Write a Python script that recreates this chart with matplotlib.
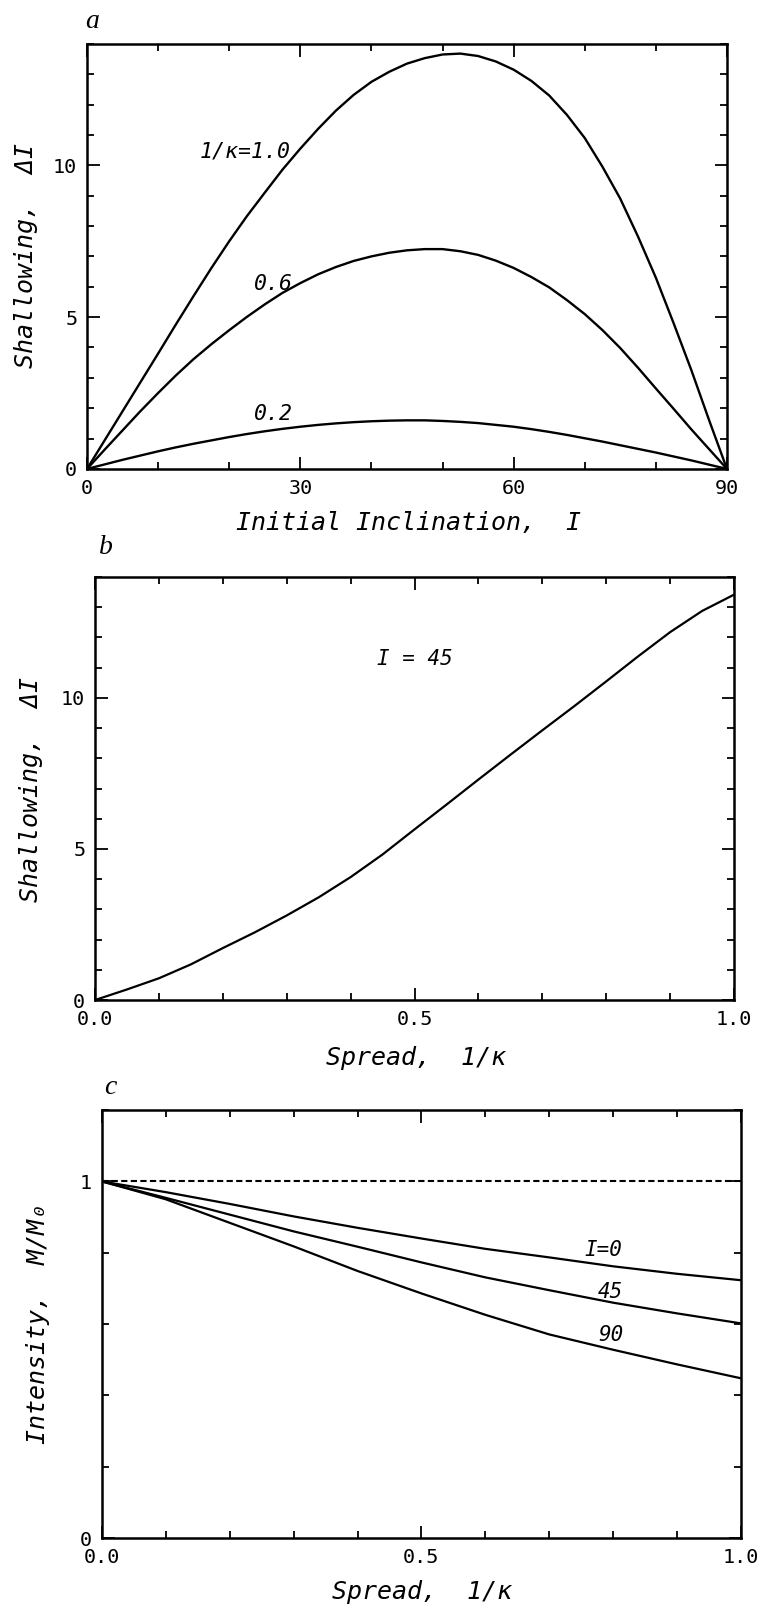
import numpy as np
import matplotlib
matplotlib.use("Agg")
import matplotlib.pyplot as plt
from matplotlib.ticker import MultipleLocator, FixedLocator


# (a) Shallowing en fonction de l'inclinaison initiale, pour 3 valeurs de 1/kappa
inclinaison = [0, 2.5, 5, 7.5, 10, 12.5, 15, 17.5, 20, 22.5, 25, 27.5, 30, 32.5, 35, 37.5,
               40, 42.5, 45, 47.5, 50, 52.5, 55, 57.5, 60, 62.5, 65, 67.5, 70, 72.5,
               75, 77.5, 80, 82.5, 85, 87.5, 90]
shallow_k10 = [0, 0.95, 1.9, 2.85, 3.8, 4.76, 5.7, 6.62, 7.5, 8.33, 9.1, 9.86, 10.55, 11.2,
               11.8, 12.32, 12.75, 13.08, 13.35, 13.53, 13.65, 13.68, 13.6, 13.42, 13.15,
               12.78, 12.3, 11.66, 10.9, 9.95, 8.9, 7.65, 6.3, 4.8, 3.25, 1.6, 0]
shallow_k06 = [0, 0.64, 1.27, 1.9, 2.5, 3.08, 3.62, 4.11, 4.57, 5.01, 5.42, 5.8, 6.12, 6.41,
               6.65, 6.85, 7.0, 7.12, 7.2, 7.24, 7.24, 7.17, 7.05, 6.86, 6.62, 6.32, 5.98,
               5.56, 5.1, 4.57, 3.98, 3.33, 2.65, 1.98, 1.3, 0.65, 0]
shallow_k02 = [0, 0.15, 0.3, 0.44, 0.58, 0.71, 0.83, 0.94, 1.05, 1.15, 1.24, 1.32, 1.39, 1.45,
               1.5, 1.54, 1.57, 1.59, 1.6, 1.6, 1.58, 1.55, 1.51, 1.45, 1.39, 1.31, 1.22,
               1.12, 1.01, 0.9, 0.78, 0.66, 0.54, 0.41, 0.28, 0.14, 0]
labels_k = ["1/κ=1.0", "0.6", "0.2"]

# (b) Shallowing en fonction du spread, I = 45
spread_b = [0.0, 0.05, 0.1, 0.15, 0.2, 0.25, 0.3, 0.35, 0.4, 0.45, 0.5, 0.55, 0.6, 0.65,
            0.7, 0.75, 0.8, 0.85, 0.9, 0.95, 1.0]
shallow_i45 = [0, 0.35, 0.72, 1.18, 1.72, 2.24, 2.8, 3.4, 4.07, 4.82, 5.65, 6.47, 7.3, 8.12,
               8.93, 9.73, 10.55, 11.38, 12.18, 12.88, 13.42]

# (c) Intensité M/Mo en fonction du spread
spread = [0.0, 0.1, 0.2, 0.3, 0.4, 0.5, 0.6, 0.7, 0.8, 0.9, 1.0]
intens_i0 = [1.0, 0.97, 0.937, 0.902, 0.87, 0.84, 0.811, 0.787, 0.762, 0.741, 0.723]
intens_i45 = [1.0, 0.954, 0.907, 0.86, 0.817, 0.773, 0.731, 0.695, 0.66, 0.63, 0.602]
intens_i90 = [1.0, 0.95, 0.884, 0.818, 0.749, 0.686, 0.626, 0.571, 0.528, 0.487, 0.448]
labels_i = ["I=0", "45", "90"]
reference = [1.0] * len(spread)

plt.rcParams["font.family"] = ["DejaVu Sans Mono", "DejaVu Sans"]

W, H = 760, 1607
fig = plt.figure(figsize=(W / 100, H / 100), dpi=100)


def px(x, y):
    # position en pixels -> coordonnées figure
    return x / W, 1 - y / H


def style_axe(ax):
    for s in ax.spines.values():
        s.set_linewidth(1.8)
    ax.tick_params(which="both", direction="in", top=True, right=True,
                   width=1.3, labelsize=14.5, pad=7)
    ax.tick_params(which="major", length=9)
    ax.tick_params(which="minor", length=5)


ax_a = fig.add_axes([0.1145, 0.7082, 0.842, 0.2645])
ax_b = fig.add_axes([0.125, 0.3777, 0.841, 0.2632])
ax_c = fig.add_axes([0.134, 0.0429, 0.841, 0.2663])

# Figure a
for serie in [shallow_k10, shallow_k06, shallow_k02]:
    ax_a.plot(inclinaison, serie, color="k", lw=1.7)
ax_a.set_xlim(0, 90)
ax_a.set_ylim(0, 14)
ax_a.xaxis.set_major_locator(FixedLocator([0, 30, 60, 90]))
ax_a.xaxis.set_minor_locator(MultipleLocator(10))
ax_a.yaxis.set_major_locator(FixedLocator([0, 5, 10]))
ax_a.yaxis.set_minor_locator(MultipleLocator(1))
style_axe(ax_a)
ax_a.text(28.6, 10.45, labels_k[0], ha="right", va="center", fontsize=15.5, style="oblique")
ax_a.text(28.9, 6.1, labels_k[1], ha="right", va="center", fontsize=15.5, style="oblique")
ax_a.text(28.9, 1.8, labels_k[2], ha="right", va="center", fontsize=15.5, style="oblique")

# Figure b
ax_b.plot(spread_b, shallow_i45, color="k", lw=1.6)
ax_b.set_xlim(0, 1)
ax_b.set_ylim(0, 14)
ax_b.xaxis.set_major_locator(FixedLocator([0, 0.5, 1.0]))
ax_b.set_xticklabels(["0.0", "0.5", "1.0"])
ax_b.xaxis.set_minor_locator(MultipleLocator(0.1))
ax_b.yaxis.set_major_locator(FixedLocator([0, 5, 10]))
ax_b.yaxis.set_minor_locator(MultipleLocator(1))
style_axe(ax_b)
ax_b.text(0.5, 11.3, "I = 45", ha="center", va="center", fontsize=15, style="oblique")

# Figure c
ax_c.plot(spread, reference, color="k", lw=1.5, dashes=(3, 1.6))
for serie in [intens_i0, intens_i45, intens_i90]:
    ax_c.plot(spread, serie, color="k", lw=1.6)
ax_c.set_xlim(0, 1)
ax_c.set_ylim(0, 1.2)
ax_c.xaxis.set_major_locator(FixedLocator([0, 0.5, 1.0]))
ax_c.set_xticklabels(["0.0", "0.5", "1.0"])
ax_c.xaxis.set_minor_locator(MultipleLocator(0.1))
ax_c.yaxis.set_major_locator(FixedLocator([0, 1]))
ax_c.set_yticklabels(["0", "1"])
ax_c.yaxis.set_minor_locator(MultipleLocator(0.2))
style_axe(ax_c)
ax_c.text(0.785, 0.807, labels_i[0], ha="center", va="center", fontsize=15, style="oblique")
ax_c.text(0.796, 0.69, labels_i[1], ha="center", va="center", fontsize=15, style="oblique")
ax_c.text(0.796, 0.569, labels_i[2], ha="center", va="center", fontsize=15, style="oblique")

# Titres des axes
fig.text(*px(408, 523), "Initial Inclination,  I", ha="center", va="center",
         fontsize=18, style="oblique")
fig.text(*px(416, 1058), "Spread,  1/κ", ha="center", va="center", fontsize=18, style="oblique")
fig.text(*px(422, 1592), "Spread,  1/κ", ha="center", va="center", fontsize=18, style="oblique")
fig.text(*px(26, 256), "Shallowing,  ΔI", ha="center", va="center", rotation=90,
         fontsize=18, style="oblique")
fig.text(*px(31, 789), "Shallowing,  ΔI", ha="center", va="center", rotation=90,
         fontsize=18, style="oblique")
fig.text(*px(38, 1324), "Intensity,  M/M₀", ha="center", va="center", rotation=90,
         fontsize=18, style="oblique")

# Lettres des panneaux
for lettre, (x, y) in zip(["a", "b", "c"], [(92, 22), (106, 548), (110, 1087)]):
    fig.text(*px(x, y), lettre, ha="center", va="center", fontsize=20,
             family="Liberation Serif", style="italic")

plt.savefig("out.png", dpi=100)
plt.close()
